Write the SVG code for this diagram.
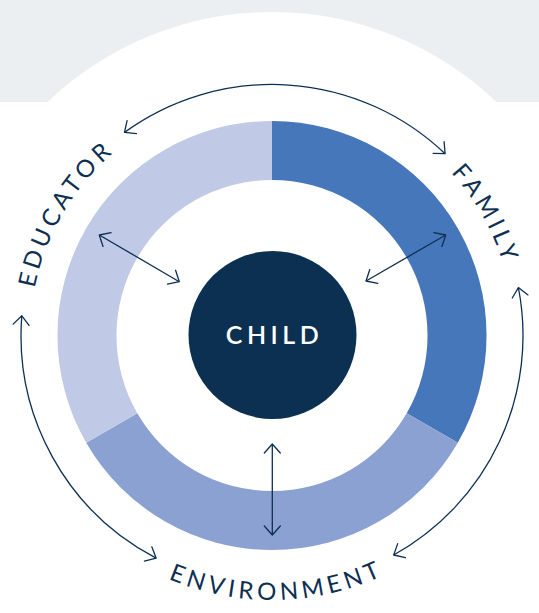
<svg xmlns="http://www.w3.org/2000/svg" width="539" height="613" viewBox="0 0 539 613">
<style>
.lbl{font-family:Lato,"Liberation Sans",sans-serif;font-size:24px;fill:#0d2f52;letter-spacing:4.3px}
.con{fill:none;stroke:#0d2f52;stroke-width:1.3}
.ah{fill:none;stroke:#0d2f52;stroke-width:1.3;stroke-linecap:round;stroke-linejoin:round}
</style>
<defs>
<marker id="arr" markerUnits="userSpaceOnUse" markerWidth="30" markerHeight="30" viewBox="-15 -15 30 30" refX="0" refY="0" orient="auto-start-reverse" overflow="visible">
<path class="ah" d="M -9 -8 L 0 0 L -9 8"/>
</marker>
<path id="pEdu" d="M 33.7 377.5 A 242 242 0 0 1 189.2 108.1"/>
<path id="pFam" d="M 354.8 108.1 A 242 242 0 0 1 510.3 377.5"/>
<path id="pEnv" d="M 102 538.1 A 264.5 264.5 0 0 0 442 538.1"/>
</defs>
<rect x="0" y="0" width="539" height="613" fill="#ffffff"/>
<rect x="0" y="0" width="539" height="102" fill="#eceff2"/>
<circle cx="272" cy="337" r="325" fill="#ffffff"/>

<g id="family">
<path d="M 272 121 A 214.5 214.5 0 0 1 457.8 442.75 L 406.7 413.25 A 155.5 155.5 0 0 0 272 180 Z" fill="#4677bb"/>
<text class="lbl"><textPath href="#pFam" startOffset="50.6%" text-anchor="middle">FAMILY</textPath></text>
</g>
<g id="environment">
<path d="M 457.8 442.75 A 214.5 214.5 0 0 1 86.2 442.75 L 137.3 413.25 A 155.5 155.5 0 0 0 406.7 413.25 Z" fill="#8aa1d1"/>
<text class="lbl"><textPath href="#pEnv" startOffset="51.4%" text-anchor="middle">ENVIRONMENT</textPath></text>
</g>
<g id="educator">
<path d="M 86.2 442.75 A 214.5 214.5 0 0 1 272 121 L 272 180 A 155.5 155.5 0 0 0 137.3 413.25 Z" fill="#c0cae6"/>
<text class="lbl"><textPath href="#pEdu" startOffset="50.6%" text-anchor="middle">EDUCATOR</textPath></text>
</g>
<g id="child">
<circle cx="272.5" cy="335" r="84" fill="#0b3052"/>
<text x="274.5" y="344" text-anchor="middle" font-family="Lato,'Liberation Sans',sans-serif" font-size="25" font-weight="600" letter-spacing="4.5" fill="#ffffff">CHILD</text>
</g>

<g id="connectors">
<path class="con" d="M 124.5 132.4 A 251 251 0 0 1 445.1 153.7" marker-start="url(#arr)" marker-end="url(#arr)"/>
<path class="con" d="M 518.4 287.6 A 251 251 0 0 1 393.7 555" marker-start="url(#arr)" marker-end="url(#arr)"/>
<path class="con" d="M 156.1 558.1 A 251 251 0 0 1 21.8 315.8" marker-start="url(#arr)" marker-end="url(#arr)"/>
<path class="con" d="M 99.3 235 L 179.3 281.7" marker-start="url(#arr)" marker-end="url(#arr)"/>
<path class="con" d="M 445.7 235 L 366 281" marker-start="url(#arr)" marker-end="url(#arr)"/>
<path class="con" d="M 272.3 444 L 272.3 535" marker-start="url(#arr)" marker-end="url(#arr)"/>
</g>
</svg>
